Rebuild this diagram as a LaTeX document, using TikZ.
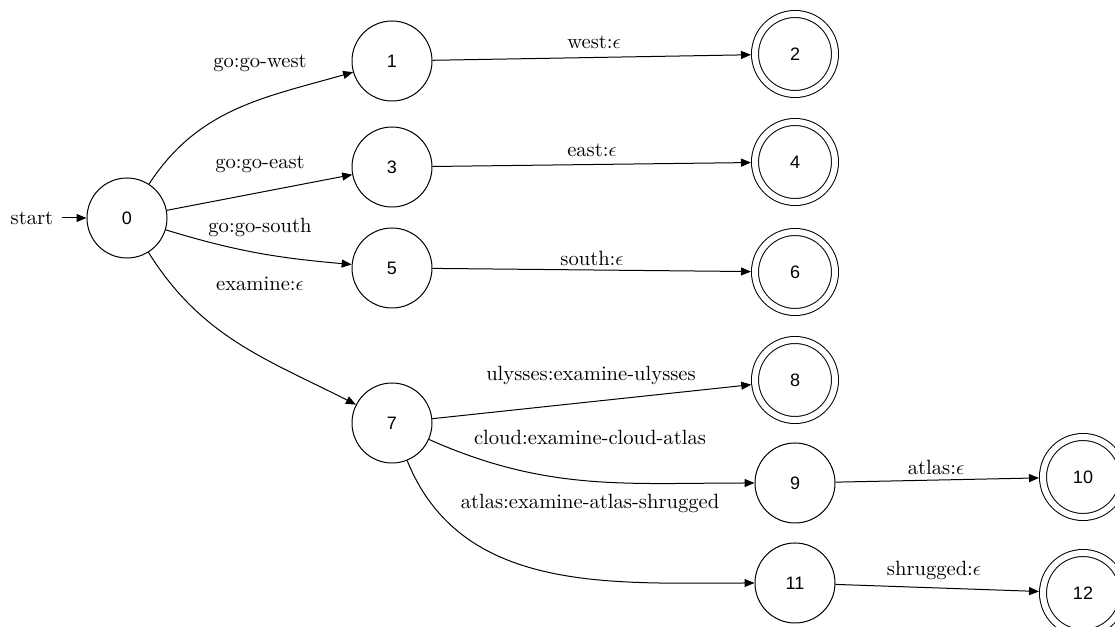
\documentclass[tikz,border=0pt]{standalone}
\usepackage{fontspec}
\usetikzlibrary{arrows.meta}
\newfontfamily\statefamily{Liberation Sans}
\begin{document}
\begin{tikzpicture}[x=0.5pt,y=0.5pt,
  line width=0.5pt,
  state/.style={circle, draw, line width=0.5pt, minimum size=40pt, inner sep=0pt,
    font=\statefamily\fontsize{9}{11}\selectfont},
  accept/.style={state, double, double distance=3pt, outer sep=2pt},
  lbl/.style={font=\fontsize{10.3}{12}\selectfont, inner sep=0pt},
  trans/.style={-{Triangle[length=5pt,width=4pt]}}]
\useasboundingbox (0,0) rectangle (1115,627);
\clip (0,0) rectangle (1115,627);

% states
\node[state]  (s0)  at (127,409)  {0};
\node[state]  (s1)  at (392,566)  {1};
\node[state]  (s3)  at (392,460)  {3};
\node[state]  (s5)  at (392,359)  {5};
\node[state]  (s7)  at (392,204)  {7};
\node[accept] (s2)  at (795,573)  {2};
\node[accept] (s4)  at (795,465)  {4};
\node[accept] (s6)  at (795,355)  {6};
\node[accept] (s8)  at (795,247)  {8};
\node[state]  (s9)  at (795,144)  {9};
\node[state]  (s11) at (795,44)   {11};
\node[accept] (s10) at (1083,150) {10};
\node[accept] (s12) at (1083,34)  {12};

% initial arrow
\node[lbl] (start) at (32,409) {start};
\coordinate (startarrow) at ([xshift=4pt]start.east);
\draw[trans] (startarrow) -- (s0);

% transitions
\draw[trans] (s0) to[out=57,in=196] (s1);
\draw[trans] (s0) -- (s3);
\draw[trans] (s0) to[out=-17,in=175] (s5);
\draw[trans] (s0) to[out=-58,in=153] (s7);
\draw[trans] (s1) -- (s2);
\draw[trans] (s3) -- (s4);
\draw[trans] (s5) -- (s6);
\draw[trans] (s7) -- (s8);
\draw[trans] (s7) to[out=-24,in=180] (s9);
\draw[trans] (s7) to[out=-68,in=180] (s11);
\draw[trans] (s9) -- (s10);
\draw[trans] (s11) -- (s12);

% transition labels
\node[lbl] (l01)  at (260,564) {go:go-west};
\node[lbl] (l03)  at (260,463) {go:go-east};
\node[lbl] (l05)  at (260,400) {go:go-south};
\node[lbl] (l07)  at (260,343) {examine:$\epsilon$};
\node[lbl] (l12)  at (594,585) {west:$\epsilon$};
\node[lbl] (l34)  at (592,477) {east:$\epsilon$};
\node[lbl] (l56)  at (592,369) {south:$\epsilon$};
\node[lbl] (l78)  at (591,252) {ulysses:examine-ulysses};
\node[lbl] (l79)  at (590,190) {cloud:examine-cloud-atlas};
\node[lbl] (l711) at (590,124) {atlas:examine-atlas-shrugged};
\node[lbl] (l910) at (936,160) {atlas:$\epsilon$};
\node[lbl] (l1112) at (934,57) {shrugged:$\epsilon$};
\end{tikzpicture}
\end{document}
